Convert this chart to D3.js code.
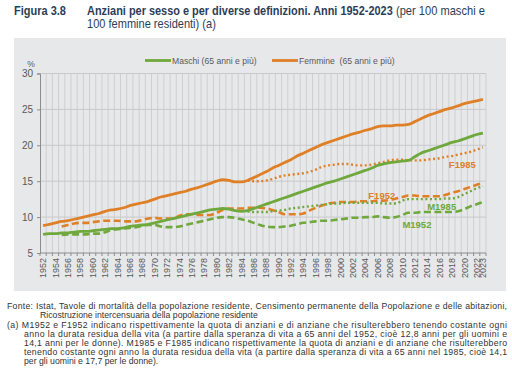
<!DOCTYPE html>
<html>
<head>
<meta charset="utf-8">
<script src="https://cdn.jsdelivr.net/npm/d3@7"></script>
<style>
body { margin: 0; background: #fff; }
svg { display: block; font-family: "Liberation Sans", Arial, sans-serif; }
</style>
</head>
<body>
<svg id="chart" width="512" height="385"></svg>
<script>
// anni 1952-2023
const years = d3.range(1952, 2024);

// Maschi / Femmine (65 anni e più)
const maschi = [7.6, 7.7, 7.7, 7.8, 7.8, 7.9, 8.0, 8.0, 8.1, 8.2, 8.3, 8.4, 8.4, 8.5, 8.7, 8.8, 8.9, 9.0,
	9.2, 9.4, 9.6, 9.8, 10.0, 10.2, 10.4, 10.6, 10.8, 11.0, 11.1, 11.2, 11.1, 10.9, 10.8, 10.9, 11.2, 11.5,
	11.8, 12.1, 12.4, 12.7, 13.0, 13.3, 13.6, 13.9, 14.2, 14.5, 14.8, 15.0, 15.3, 15.6, 15.9, 16.2, 16.5,
	16.8, 17.2, 17.4, 17.6, 17.7, 17.8, 17.9, 18.4, 18.9, 19.2, 19.5, 19.8, 20.1, 20.4, 20.6, 20.9, 21.2,
	21.5, 21.7];
const femmine = [8.8, 9.0, 9.2, 9.4, 9.5, 9.7, 9.9, 10.1, 10.3, 10.5, 10.8, 11.0, 11.1, 11.3, 11.6, 11.8,
	12.0, 12.2, 12.5, 12.8, 13.0, 13.2, 13.4, 13.6, 13.9, 14.1, 14.4, 14.7, 15.0, 15.2, 15.1, 14.9, 14.9,
	15.1, 15.5, 15.9, 16.3, 16.8, 17.2, 17.6, 18.0, 18.5, 18.9, 19.3, 19.7, 20.1, 20.4, 20.7, 21.0, 21.3,
	21.6, 21.8, 22.1, 22.3, 22.6, 22.7, 22.7, 22.8, 22.8, 22.9, 23.3, 23.7, 24.1, 24.4, 24.7, 25.0, 25.2,
	25.5, 25.8, 26.0, 26.2, 26.4];

// M1952 / F1952 dal 1955
const years1952 = d3.range(1955, 2024);
const m1952 = [7.5, 7.6, 7.6, 7.6, 7.6, 7.7, 7.7, 7.9, 8.2, 8.3, 8.4, 8.5, 8.6, 8.8, 8.9, 8.9, 8.7, 8.6,
	8.6, 8.7, 8.9, 9.1, 9.3, 9.5, 9.7, 9.9, 10.0, 10.0, 9.9, 9.7, 9.5, 9.2, 8.9, 8.7, 8.6, 8.6, 8.7, 8.8,
	9.0, 9.2, 9.3, 9.4, 9.5, 9.5, 9.6, 9.7, 9.8, 9.9, 9.9, 10.0, 10.0, 10.1, 10.0, 9.9, 10.0, 10.3, 10.6,
	10.6, 10.7, 10.7, 10.7, 10.7, 10.7, 10.7, 10.8, 11.1, 11.5, 11.8, 12.1];
const f1952 = [8.7, 8.9, 9.1, 9.2, 9.2, 9.3, 9.4, 9.5, 9.5, 9.5, 9.4, 9.4, 9.4, 9.6, 9.8, 9.9, 9.8, 9.8,
	9.8, 10.2, 10.4, 10.4, 10.3, 10.3, 10.3, 10.6, 11.0, 11.2, 11.2, 11.2, 11.3, 11.3, 11.3, 11.2, 11.0,
	10.7, 10.4, 10.4, 10.4, 10.5, 10.9, 11.3, 11.6, 11.9, 12.0, 12.1, 12.1, 12.1, 12.2, 12.2, 12.2, 12.3,
	12.3, 12.4, 12.6, 12.8, 13.0, 13.0, 12.9, 12.9, 12.9, 12.9, 13.1, 13.4, 13.6, 13.9, 14.2, 14.5, 14.8];

// M1985 / F1985 dal 1985
const years1985 = d3.range(1985, 2024);
const m1985 = [10.8, 10.7, 10.7, 10.7, 10.8, 10.9, 11.0, 11.2, 11.3, 11.4, 11.5, 11.6, 11.7, 11.8, 11.9,
	11.9, 12.0, 12.0, 12.0, 12.0, 12.0, 12.0, 11.9, 11.9, 11.9, 12.3, 12.5, 12.5, 12.5, 12.5, 12.5, 12.5,
	12.6, 12.6, 12.8, 13.2, 13.6, 14.0, 14.3];
const f1985 = [15.1, 15.0, 15.0, 15.1, 15.3, 15.6, 15.8, 15.9, 16.0, 16.1, 16.3, 16.6, 17.0, 17.2, 17.3,
	17.4, 17.4, 17.3, 17.2, 17.2, 17.3, 17.5, 17.7, 17.9, 18.0, 18.0, 17.9, 17.9, 17.9, 18.0, 18.1, 18.2,
	18.4, 18.5, 18.7, 18.9, 19.1, 19.4, 19.7];

const yTicks = [5, 10, 15, 20, 25, 30];
const xLabels = years.filter(d => (d - 1952) % 2 === 0).concat([2023]);

const green = "#6fa83c";
const orange = "#df8027";
const textGrey = "#595959";

const svg = d3.select("#chart");
svg.append("rect").attr("width", 512).attr("height", 385).attr("fill", "#fff");

// titolo (font stretto: compresso in orizzontale con scale)
const titleColor = "#2c3e57";
function titleText(x, y, len, txt, bold) {
	let t = svg.append("text").attr("x", 0).attr("y", 0)
		.attr("font-size", 12.5).attr("font-weight", bold ? "bold" : "normal")
		.attr("fill", titleColor).text(txt);
	let w = t.node().getComputedTextLength();
	t.attr("transform", "translate(" + x + "," + y + ") scale(" + (len / w) + ",1)");
}
titleText(14, 15, 52, "Figura 3.8", true);
titleText(87, 15, 306, "Anziani per sesso e per diverse definizioni. Anni 1952-2023", true);
titleText(396, 15, 89, "(per 100 maschi e", false);
titleText(87, 28, 129, "100 femmine residenti) (a)", false);

// pannello grigio
svg.append("rect").attr("x", 14).attr("y", 38).attr("width", 492).attr("height", 253)
	.attr("fill", "#e7e8ea");

const margin = {left: 40, right: 486, top: 73.5, bottom: 253};

const x = d3.scaleBand().domain(years).range([margin.left, margin.right]).padding(0);
const y = d3.scaleLinear().domain([5, 30]).range([margin.bottom, margin.top]);
const cx = d => x(d) + x.bandwidth() / 2;

// griglia verticale
const bounds = years.map(d => x(d)).concat([margin.right]);
svg.append("g").selectAll("line").data(bounds.slice(1)).join("line")
	.attr("x1", d => d).attr("x2", d => d)
	.attr("y1", margin.top).attr("y2", margin.bottom)
	.attr("stroke", "#cfcfd1").attr("stroke-width", 1);

// griglia orizzontale
svg.append("g").selectAll("line").data(yTicks.slice(1)).join("line")
	.attr("x1", margin.left).attr("x2", margin.right)
	.attr("y1", d => y(d)).attr("y2", d => y(d))
	.attr("stroke", "#c9c9cb").attr("stroke-width", 1);

// asse y
const yAxis = svg.append("g").attr("transform", `translate(${margin.left},0)`)
	.call(d3.axisLeft(y).tickValues(yTicks).tickSize(3).tickPadding(4));
yAxis.select(".domain").attr("stroke", "#8c8c8c");
yAxis.selectAll(".tick line").attr("stroke", "#8c8c8c");
yAxis.selectAll("text").attr("font-size", 10).attr("fill", textGrey)
	.attr("font-family", "Liberation Sans, Arial, sans-serif");
svg.append("text").attr("x", 31).attr("y", 67).attr("text-anchor", "middle")
	.attr("font-size", 8.5).attr("fill", textGrey).text("%");

// asse x
svg.append("line").attr("x1", margin.left).attr("x2", margin.right)
	.attr("y1", margin.bottom).attr("y2", margin.bottom).attr("stroke", "#8c8c8c");
svg.append("g").selectAll("line").data(bounds).join("line")
	.attr("x1", d => d).attr("x2", d => d)
	.attr("y1", margin.bottom).attr("y2", margin.bottom + 3)
	.attr("stroke", "#8c8c8c");
svg.append("g").selectAll("text").data(xLabels).join("text")
	.attr("transform", d => `translate(${cx(d) + 3.2},${margin.bottom + 5}) rotate(-90)`)
	.attr("text-anchor", "end")
	.attr("font-size", 9).attr("fill", textGrey)
	.text(d => d);

// linee
const line = d3.line().x(d => cx(d[0])).y(d => y(d[1])).curve(d3.curveMonotoneX);
const series = [
	{yrs: years1952, vals: m1952, color: green, dash: "7,3.5", width: 2.6},
	{yrs: years1952, vals: f1952, color: orange, dash: "7,3.5", width: 2.6},
	{yrs: years1985, vals: m1985, color: green, dash: "2,2.6", width: 2.4},
	{yrs: years1985, vals: f1985, color: orange, dash: "2,2.6", width: 2.4},
	{yrs: years, vals: maschi, color: green, dash: null, width: 2.8},
	{yrs: years, vals: femmine, color: orange, dash: null, width: 2.8}
];
series.forEach(s => {
	svg.append("path")
		.datum(d3.zip(s.yrs, s.vals))
		.attr("d", line)
		.attr("fill", "none")
		.attr("stroke", s.color)
		.attr("stroke-width", s.width)
		.attr("stroke-dasharray", s.dash)
		.attr("stroke-linejoin", "round");
});

// etichette delle serie
const labels = [
	{text: "F1985", year: 2018, val: 17.3, color: orange},
	{text: "F1952", year: 2005, val: 13.0, color: orange},
	{text: "M1985", year: 2014.5, val: 11.5, color: green},
	{text: "M1952", year: 2010.5, val: 9.0, color: green}
];
labels.forEach(l => {
	svg.append("text")
		.attr("x", x(Math.floor(l.year)) + (l.year % 1) * x.bandwidth())
		.attr("y", y(l.val))
		.attr("dy", "0.35em")
		.attr("font-size", 9.5).attr("font-weight", "bold")
		.attr("fill", l.color).text(l.text);
});

// legenda
const legendItems = [
	{text: "Maschi (65 anni e più)", color: green, x: 145},
	{text: "Femmine  (65 anni e più)", color: orange, x: 272}
];
legendItems.forEach(d => {
	svg.append("line").attr("x1", d.x).attr("x2", d.x + 26)
		.attr("y1", 60.5).attr("y2", 60.5)
		.attr("stroke", d.color).attr("stroke-width", 2.8);
	svg.append("text").attr("x", d.x + 27).attr("y", 63.5)
		.attr("font-size", 8.6).attr("fill", textGrey)
		.style("white-space", "pre")
		.text(d.text);
});

// note (righe giustificate: len impostata)
const notes = [
	{x: 7, y: 309, len: 500, t: "Fonte: Istat, Tavole di mortalità della popolazione residente, Censimento permanente della Popolazione e delle abitazioni,"},
	{x: 40, y: 318, len: 0, t: "Ricostruzione intercensuaria della popolazione residente"},
	{x: 7, y: 328, len: 500, t: "(a) M1952 e F1952 indicano rispettivamente la quota di anziani e di anziane che risulterebbero tenendo costante ogni"},
	{x: 24, y: 337, len: 483, t: "anno la durata residua della vita (a partire dalla speranza di vita a 65 anni del 1952, cioè 12,8 anni per gli uomini e"},
	{x: 24, y: 346, len: 483, t: "14,1 anni per le donne). M1985 e F1985 indicano rispettivamente la quota di anziani e di anziane che risulterebbero"},
	{x: 24, y: 355, len: 483, t: "tenendo costante ogni anno la durata residua della vita (a partire dalla speranza di vita a 65 anni nel 1985, cioè 14,1"},
	{x: 24, y: 364, len: 0, t: "per gli uomini e 17,7 per le donne)."}
];
const noteText = svg.append("g").selectAll("text").data(notes).join("text")
	.attr("x", d => d.x).attr("y", d => d.y)
	.attr("font-size", 8.7).attr("fill", "#333")
	.text(d => d.t);
noteText.filter(d => d.len > 0)
	.attr("textLength", d => d.len).attr("lengthAdjust", "spacing");
</script>
</body>
</html>
